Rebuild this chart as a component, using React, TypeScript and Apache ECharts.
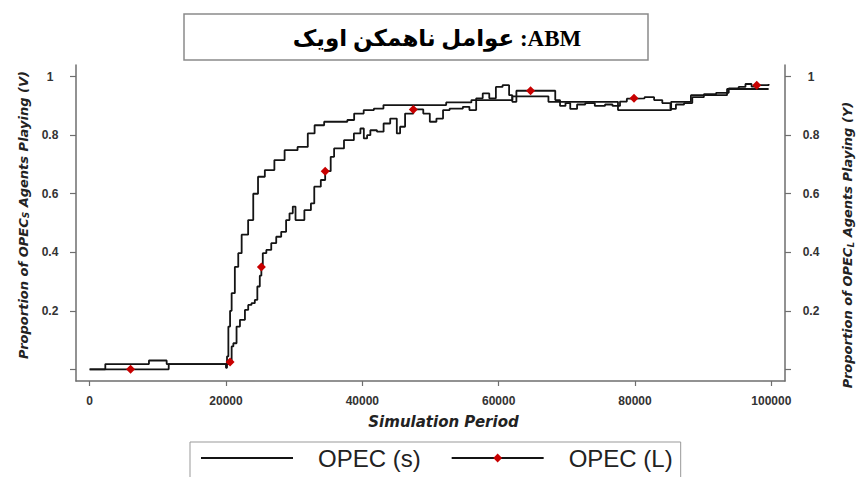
import React, { useEffect, useRef } from 'react';
import * as echarts from 'echarts';

// Axis ticks
const xTicks = [0, 20000, 40000, 60000, 80000, 100000];
const yTicks = [0, 0.2, 0.4, 0.6, 0.8, 1];

// Series names and title
const seriesNames = ['OPEC (s)', 'OPEC (L)'];
const titleText = '\u202BABM: عوامل ناهمکن اویک\u202C';
const leftAxisName = '{t|Proportion of OPEC}{s|S}{t| Agents Playing (V)}';
const rightAxisName = '{t|Proportion of OPEC}{s|L}{t| Agents Playing (Y)}';
const xAxisName = 'Simulation Period';

// OPEC(s): [period, proportion] at each change
const opecS: [number, number][] = [
  [0, 0], [2300, 0.018], [8700, 0.03], [11300, 0.018], [20000, 0.005],
  [20150, 0.044], [20350, 0.146], [20600, 0.2], [20830, 0.26], [21300, 0.35],
  [21800, 0.397], [22300, 0.46], [23250, 0.51], [24000, 0.6], [24700, 0.658],
  [25700, 0.681], [27100, 0.715], [28600, 0.749], [30500, 0.76], [32000, 0.806],
  [33000, 0.834], [34400, 0.846], [37800, 0.852], [38800, 0.874], [40200, 0.886],
  [41700, 0.891], [43100, 0.903], [52300, 0.912], [56000, 0.92], [62000, 0.933],
  [67300, 0.914], [77500, 0.886], [85300, 0.914], [88200, 0.937], [93500, 0.958],
  [99600, 0.958],
];

// OPEC(L): [period, proportion] at each change
const opecL: [number, number][] = [
  [0, 0], [6000, 0], [11600, 0.018], [20600, 0.025], [20830, 0.078],
  [21080, 0.089], [21550, 0.146], [22050, 0.169], [22780, 0.203], [23260, 0.22],
  [23740, 0.226], [24230, 0.237], [24600, 0.283], [24960, 0.32], [25190, 0.35],
  [25400, 0.397], [25920, 0.408], [26640, 0.431], [27370, 0.453], [28100, 0.47],
  [28820, 0.51], [29320, 0.533], [29800, 0.556], [30200, 0.51], [31500, 0.544],
  [32460, 0.567], [32950, 0.624], [33910, 0.647], [34550, 0.677], [35360, 0.726],
  [35860, 0.755], [37310, 0.783], [38760, 0.806], [39720, 0.823], [40220, 0.789],
  [40700, 0.8], [41180, 0.817], [42150, 0.812], [43120, 0.84], [44090, 0.857],
  [45060, 0.806], [45540, 0.829], [46270, 0.874], [47480, 0.888], [48940, 0.874],
  [49900, 0.846], [50870, 0.857], [51840, 0.886], [52810, 0.891], [54750, 0.897],
  [55710, 0.886], [56700, 0.926], [57660, 0.943], [58620, 0.926], [59590, 0.965],
  [60570, 0.971], [61530, 0.937], [62000, 0.914], [62600, 0.952], [64680, 0.952],
  [67300, 0.952], [68300, 0.92], [69000, 0.9], [69800, 0.91], [70500, 0.89],
  [71500, 0.905], [72700, 0.91], [74100, 0.9], [75600, 0.905], [76700, 0.9],
  [77800, 0.915], [78800, 0.925], [79850, 0.926], [81400, 0.93], [82800, 0.92],
  [84000, 0.91], [85200, 0.89], [86000, 0.905], [87200, 0.91], [88400, 0.93],
  [90100, 0.94], [91900, 0.945], [93750, 0.96], [95200, 0.965], [96200, 0.975],
  [97100, 0.966], [97860, 0.971], [99600, 0.975],
];

// Periods of OPEC(L) that carry a diamond marker
const lMarkerX = [6000, 20600, 25190, 34550, 47480, 64680, 79850, 97860];

const SANS = '"Liberation Sans", Arial, sans-serif';
const NAME_FONT = '"DejaVu Sans", Verdana, sans-serif';
const AXIS_COLOR = '#6e6e6e';
const LINE_COLOR = '#141414';
const MARK_COLOR = '#c80000';

const yTickLabel = (v: number) => (v === 0 ? '' : String(v));
const xTickLabel = (v: number) => String(v);

const nameRich = {
  t: { fontSize: 13, fontWeight: 'bold', fontStyle: 'italic', fontFamily: NAME_FONT, color: '#222', lineHeight: 15, verticalAlign: 'middle' },
  s: { fontSize: 9, fontWeight: 'bold', fontStyle: 'italic', fontFamily: NAME_FONT, color: '#222', lineHeight: 9, padding: [8, 0, 0, 0], verticalAlign: 'bottom' },
};

function yAxisCfg(position: 'left' | 'right', name: string, gap: number, namePadding: number[]) {
  return {
    type: 'value',
    position,
    min: -0.04,
    max: 1.04,
    name,
    nameLocation: 'middle',
    nameRotate: 90,
    nameGap: gap,
    nameTextStyle: { rich: nameRich, padding: namePadding },
    axisLine: { show: true, onZero: false, lineStyle: { color: AXIS_COLOR, width: 1.5 } },
    axisTick: { show: true, customValues: yTicks, length: 6, lineStyle: { color: AXIS_COLOR, width: 1.2 } },
    axisLabel: {
      customValues: yTicks,
      formatter: yTickLabel,
      align: 'center',
      margin: 26,
      fontSize: 12,
      fontWeight: 'bold',
      fontFamily: SANS,
      color: '#333',
    },
    splitLine: { show: false },
  };
}

export default function App() {
  const ref = useRef<HTMLDivElement>(null);

  useEffect(() => {
    if (!ref.current) return;
    const chart = echarts.init(ref.current, undefined, { renderer: 'svg' });

    const lData = opecL.map(([x, y]) =>
      lMarkerX.includes(x) ? { value: [x, y] } : { value: [x, y], symbol: 'none' }
    );

    chart.setOption({
      animation: false,
      backgroundColor: '#ffffff',
      grid: { left: 76, right: 70, top: 65, bottom: 96, containLabel: false },
      graphic: [
        {
          type: 'rect',
          shape: { x: 184, y: 14, width: 464, height: 46 },
          style: { fill: '#ffffff', stroke: '#8a8a8a', lineWidth: 1.5 },
        },
        {
          type: 'text',
          x: 437,
          y: 38,
          style: {
            text: titleText,
            fontSize: 23,
            fontWeight: 'bold',
            fontFamily: '"Liberation Serif", "DejaVu Sans", serif',
            fill: '#000',
            align: 'center',
            verticalAlign: 'middle',
          },
        },
      ],
      legend: {
        left: 190,
        top: 442,
        orient: 'horizontal',
        itemWidth: 92,
        itemHeight: 11,
        itemGap: 30,
        padding: [4, 8, 8, 10],
        borderColor: '#999',
        borderWidth: 1,
        selectedMode: false,
        textStyle: { fontSize: 24, color: '#222', fontFamily: SANS, padding: [0, 0, 0, 20] },
        data: [
          { name: seriesNames[0], itemStyle: { opacity: 0 } },
          { name: seriesNames[1] },
        ],
      },
      xAxis: {
        type: 'value',
        min: -2000,
        max: 102000,
        name: xAxisName,
        nameLocation: 'middle',
        nameGap: 33,
        nameTextStyle: { fontSize: 15, fontWeight: 'bold', fontStyle: 'italic', fontFamily: NAME_FONT, color: '#222', padding: [0, 0, 0, 26] },
        axisLine: { show: true, onZero: false, lineStyle: { color: AXIS_COLOR, width: 1.5 } },
        axisTick: { show: true, customValues: xTicks, length: 5, lineStyle: { color: AXIS_COLOR, width: 1.2 } },
        axisLabel: {
          customValues: xTicks,
          formatter: xTickLabel,
          margin: 14,
          fontSize: 12,
          fontWeight: 'bold',
          fontFamily: SANS,
          color: '#333',
        },
        splitLine: { show: false },
      },
      yAxis: [
        yAxisCfg('left', leftAxisName, 44, [0, 0, 0, 16]),
        yAxisCfg('right', rightAxisName, 55, [0, 44, 0, 0]),
      ],
      series: [
        {
          name: seriesNames[0],
          type: 'line',
          step: 'end',
          yAxisIndex: 0,
          symbol: 'none',
          data: opecS,
          lineStyle: { color: LINE_COLOR, width: 1.8 },
          itemStyle: { color: LINE_COLOR },
          z: 2,
        },
        {
          name: seriesNames[1],
          type: 'line',
          step: 'end',
          yAxisIndex: 1,
          symbol: 'diamond',
          symbolSize: [9, 9],
          showAllSymbol: true,
          data: lData,
          lineStyle: { color: LINE_COLOR, width: 1.8 },
          itemStyle: { color: MARK_COLOR, borderWidth: 0 },
          z: 3,
        },
      ],
    });

    return () => chart.dispose();
  }, []);

  return (
    <div
      ref={ref}
      style={{ position: 'fixed', left: 0, top: 0, width: 863, height: 477, background: '#fff' }}
    />
  );
}
